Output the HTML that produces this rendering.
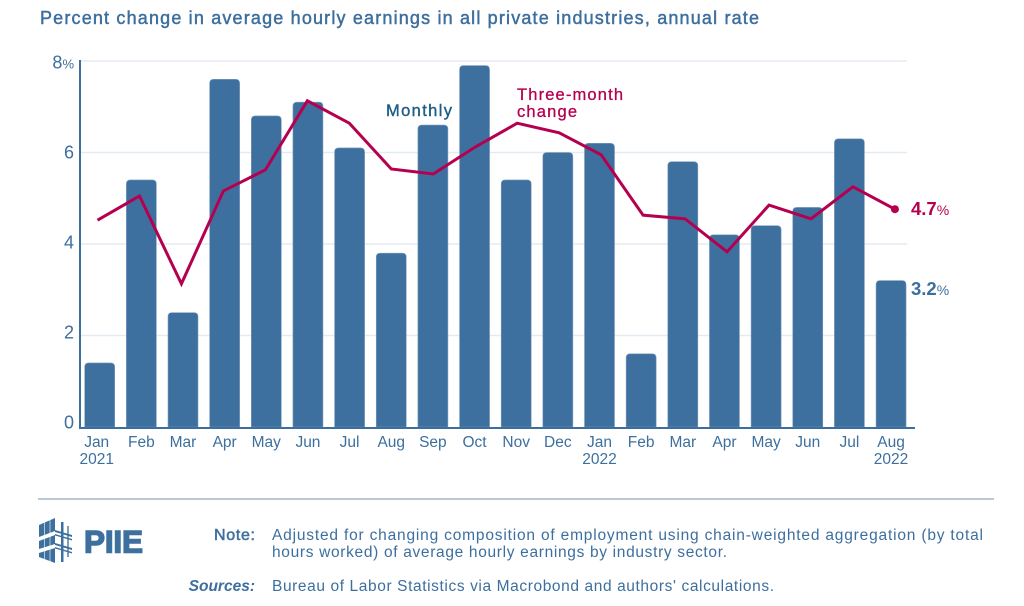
<!DOCTYPE html>
<html lang="en">
<head>
<meta charset="utf-8">
<title>Percent change in average hourly earnings</title>
<style>
html,body{margin:0;padding:0;background:#fff;width:1024px;height:606px;overflow:hidden}
svg{display:block;font-family:"Liberation Sans",sans-serif}
</style>
</head>
<body>
<svg id="chart" width="1024" height="606" viewBox="0 0 1024 606" xmlns="http://www.w3.org/2000/svg">
  <text x="40" y="24" font-size="18" fill="#3d6f9e" stroke="#3d6f9e" stroke-width="0.45" textLength="719" lengthAdjust="spacing">Percent change in average hourly earnings in all private industries, annual rate</text>
  <g id="grid"></g>
  <g id="bars"></g>
  <g id="axes"></g>
  <g id="yticks"></g>
  <g id="xticks"></g>
  <g id="line"></g>

  <text x="386" y="116" font-size="16.5" fill="#1f5f85" stroke="#1f5f85" stroke-width="0.4" textLength="66" lengthAdjust="spacing">Monthly</text>
  <text x="517" y="100" font-size="16.5" fill="#b5004f" stroke="#b5004f" stroke-width="0.3" textLength="106" lengthAdjust="spacing">Three-month</text>
  <text x="517" y="117" font-size="16.5" fill="#b5004f" stroke="#b5004f" stroke-width="0.3" textLength="60" lengthAdjust="spacing">change</text>

  <text x="911" y="215" font-size="18.5" font-weight="bold" fill="#b5004f">4.7<tspan font-size="14" font-weight="normal">%</tspan></text>
  <text x="911" y="295" font-size="18.5" font-weight="bold" fill="#3d6f9e">3.2<tspan font-size="14" font-weight="normal">%</tspan></text>

  <rect x="38" y="498" width="956" height="2" fill="#b9c9d8"/>

  <g>
    <polygon points="39,525 55,518 55,563 39,557" fill="#3d709f"/>
    <rect x="44" y="520" width="1" height="41" fill="#fff" opacity="0.6"/>
    <rect x="49.5" y="518" width="1" height="44" fill="#fff" opacity="0.6"/>
    <polygon points="39,537 55,531 55,535 39,541" fill="#fff"/>
    <polygon points="39,549 55,544 55,548 39,553" fill="#fff"/>
    <rect x="61" y="522" width="2.5" height="40" fill="#3d709f"/>
    <rect x="67" y="526" width="2" height="31" fill="#7c9dbd"/>
    <polygon points="55,530 72,535 72,537 55,532" fill="#3d709f"/>
    <polygon points="55,534 72,539 72,540.5 55,535.5" fill="#3d709f"/>
    <polygon points="55,543 72,548 72,550 55,545" fill="#3d709f"/>
    <polygon points="55,547 72,552 72,553.5 55,548.5" fill="#3d709f"/>
    <text x="84" y="552.5" font-size="31.5" font-weight="bold" fill="#3d709f" stroke="#3d709f" stroke-width="1.4" textLength="59" lengthAdjust="spacing">PIIE</text>
  </g>

  <text x="255" y="540" text-anchor="end" font-size="16" fill="#3d6f9e" stroke="#3d6f9e" stroke-width="0.5" textLength="41" lengthAdjust="spacing">Note:</text>
  <text x="272" y="540" font-size="15.5" fill="#3d6f9e" textLength="711" lengthAdjust="spacing">Adjusted for changing composition of employment using chain-weighted aggregation (by total</text>
  <text x="272" y="557" font-size="15.5" fill="#3d6f9e" textLength="455" lengthAdjust="spacing">hours worked) of average hourly earnings by industry sector.</text>
  <text x="255" y="591" text-anchor="end" font-size="15.5" font-weight="bold" font-style="italic" fill="#3d6f9e">Sources:</text>
  <text x="272" y="591" font-size="15.5" fill="#3d6f9e" textLength="502" lengthAdjust="spacing">Bureau of Labor Statistics via Macrobond and authors' calculations.</text>

  <script>
    var categories = ["Jan","Feb","Mar","Apr","May","Jun","Jul","Aug","Sep","Oct","Nov","Dec","Jan","Feb","Mar","Apr","May","Jun","Jul","Aug"];
    var yearLabels = ["2021","","","","","","","","","","","","2022","","","","","","","2022"];
    var monthlyValues = [1.4,5.4,2.5,7.6,6.8,7.1,6.1,3.8,6.6,7.9,5.4,6.0,6.2,1.6,5.8,4.2,4.4,4.8,6.3,3.2];
    var threeMonthValues = [4.52,5.05,3.13,5.16,5.62,7.13,6.64,5.64,5.53,6.12,6.64,6.43,5.95,4.63,4.55,3.83,4.85,4.55,5.25,4.76];
    var yTicks = [0,2,4,6,8];

    var NS = "http://www.w3.org/2000/svg";
    function yScale(v) { return 427 - v * 45.75; }
    function yLabelScale(v) { return 428.5 - v * 45; }
    function barX(i) { return 99.7 + i * 41.65; }
    function lineX(i) { return 97.5 + i * 41.97; }
    function make(tag, parent, attrs) {
      var el = document.createElementNS(NS, tag);
      for (var k in attrs) { el.setAttribute(k, attrs[k]); }
      document.getElementById(parent).appendChild(el);
      return el;
    }

    yTicks.forEach(function (t) {
      if (t > 0) {
        var g = make("rect", "grid", {x: 80, y: yScale(t) - 0.75, width: 827, height: 1.5, fill: "#e3ebf2"});
        
        
      }
      var lab = make("text", "yticks", {x: 74, y: yLabelScale(t), "text-anchor": "end", "font-size": 18, fill: "#3d6f9e"});
      
      
      lab.textContent = t;
      if (t === 8) {
        var pct = document.createElementNS(NS, "tspan");
        pct.setAttribute("font-size", "13");
        pct.textContent = "%";
        lab.appendChild(pct);
      }
    });

    monthlyValues.forEach(function (v, i) {
      var cx = barX(i), w = 30, r = 4, top = yScale(v), base = 427;
      var l = cx - w / 2, rt = cx + w / 2;
      var bar = make("path", "bars", {
        d: "M" + l + " " + base + "V" + (top + r) + "Q" + l + " " + top + " " + (l + r) + " " + top +
           "H" + (rt - r) + "Q" + rt + " " + top + " " + rt + " " + (top + r) + "V" + base + "Z",
        fill: "#3d709f", stroke: "#7c9dbd", "stroke-width": 0.6
      });
      
      
    });

    categories.forEach(function (c, i) {
      var m = make("text", "xticks", {x: barX(i) - (i === 0 ? 3 : 0), y: 447, "text-anchor": "middle", "font-size": 15.5, fill: "#3d6f9e"});
      
      
      m.textContent = c;
      if (yearLabels[i]) {
        var yl = make("text", "xticks", {x: barX(i) - (i === 0 ? 3 : 0), y: 464, "text-anchor": "middle", "font-size": 15.5, fill: "#3d6f9e"});
        
        
        yl.textContent = yearLabels[i];
      }
    });

    var yAxis = make("rect", "axes", {x: 79, y: 60, width: 2, height: 368, fill: "#3d6f9e"});
    
    
    var xAxis = make("rect", "axes", {x: 79, y: 427, width: 836, height: 2, fill: "#3d6f9e"});
    
    

    var pts = threeMonthValues.map(function (v, i) { return lineX(i) + "," + yScale(v); }).join(" ");
    var poly = make("polyline", "line", {points: pts, fill: "none", stroke: "#b5004f", "stroke-width": 3, "stroke-linejoin": "miter"});
    
    
    var last = threeMonthValues.length - 1;
    var dot = make("circle", "line", {cx: lineX(last), cy: yScale(threeMonthValues[last]), r: 4, fill: "#b5004f"});
    
    
  </script>
</svg>
</body>
</html>
